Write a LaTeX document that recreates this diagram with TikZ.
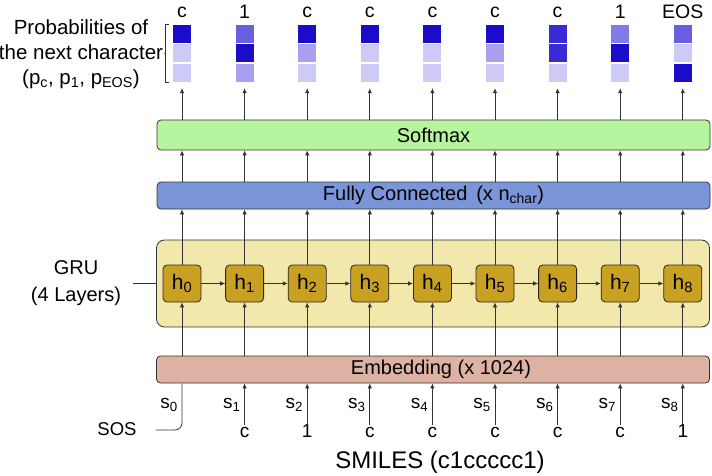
\documentclass[tikz,border=0pt]{standalone}
\usepackage{fontspec}
\setmainfont{Liberation Sans}
\usetikzlibrary{arrows.meta}

\definecolor{pd}{RGB}{26,12,200}
\definecolor{pd2}{RGB}{56,42,214}
\definecolor{pm}{RGB}{106,95,224}
\definecolor{pm2}{RGB}{130,122,232}
\definecolor{pl2}{RGB}{168,160,238}
\definecolor{pl}{RGB}{206,202,248}
\definecolor{smgreen}{RGB}{182,245,160}
\definecolor{fcblue}{RGB}{122,150,216}
\definecolor{grubg}{RGB}{242,232,172}
\definecolor{hgold}{RGB}{200,160,34}
\definecolor{embpink}{RGB}{222,178,162}

\begin{document}
\begin{tikzpicture}[x=1pt, y=-1pt,
            font=\fontsize{20}{22}\selectfont,
            layer/.style = {draw=black!80, thick, rounded corners=4pt, minimum width=553pt, inner sep=0pt},
            cell/.style = {minimum size=18pt, inner sep=0pt},
            hid/.style = {draw=black!85, thick, rounded corners=4pt, fill=hgold, minimum width=38pt, minimum height=37pt, inner sep=0pt, font=\fontsize{21}{22}\selectfont},
            inp/.style = {text height=10pt, text depth=0pt, inner sep=2pt},
            arr/.style = {draw=black!80, thick, -{Latex[length=5pt,width=4.5pt]}},
            lin/.style = {draw=black!80, thick},
        ]
        \useasboundingbox (0,0) rectangle (712,476);

        \node (sm) [layer, fill=smgreen, minimum height=30pt] at (433.5,135) {Softmax};
        \node (fc) [layer, fill=fcblue, minimum height=27pt] at (433.5,195.5) {Fully Connected \,(x n\textsubscript{char})};
        \node (gru) [layer, fill=grubg, minimum height=87pt, rounded corners=8pt] at (433,283.5) {};
        \node (emb) [layer, fill=embpink, minimum height=27pt] at (433,369.5) {\hspace{16pt}Embedding (x 1024)};

        \node (prob) [align=center, inner xsep=1pt, font=\fontsize{20.5}{25}\selectfont] at (81,54)
            {Probabilities of\\the next character\\(p\textsubscript{c}, p\textsubscript{1}, p\textsubscript{EOS})};
        \node (grulab) [align=center, inner xsep=12pt, font=\fontsize{20}{27}\selectfont] at (76,283.5) {GRU\\(4 Layers)};
        \node (sos) [inp, inner xsep=19pt, font=\fontsize{18.5}{20}\selectfont] at (117,430) {SOS};
        \node (smiles) [font=\fontsize{24}{26}\selectfont] at (440,462) {SMILES (c1ccccc1)};

        % output columns
        \foreach \i/\t/\m/\b/\lab in {0/pd/pl/pl/c, 1/pm/pd/pl2/1, 2/pd/pl2/pl/c, 3/pd/pl/pl/c,
                4/pd/pl/pl/c, 5/pd/pl2/pl/c, 6/pd2/pd2/pl/c, 7/pm2/pd/pl/1, 8/pm/pl/pd/EOS} {
            \pgfmathsetmacro\xx{182+62.6*\i}
            \node (h\i) [hid] at (\xx,283.5) {h\textsubscript{\i}};
            \node (ct\i) [cell, fill=\t] at (\xx,34) {};
            \node (cm\i) [cell, fill=\m] at (\xx,53.5) {};
            \node (cb\i) [cell, fill=\b] at (\xx,73) {};
            \node (out\i) [font=\fontsize{19.5}{20}\selectfont] at (\xx,12) {\lab};

            \path[arr] (sm.north -| h\i) -- ([yshift=-6pt]cb\i.south);
            \path[arr] (fc.north -| h\i) -- (sm.south -| h\i);
            \path[arr] (h\i.north) -- (fc.south -| h\i);
            \path[arr] (emb.north -| h\i) -- (h\i.south);
        }

        % recurrence
        \foreach \i [evaluate=\i as \j using int(\i+1)] in {0,...,7}
            \path[arr] (h\i) -- (h\j);

        % inputs
        \foreach \i/\ch in {1/c, 2/1, 3/c, 4/c, 5/c, 6/c, 7/c, 8/1} {
            \pgfmathsetmacro\xx{182+62.6*\i}
            \node (ch\i) [inp, font=\fontsize{19}{20}\selectfont] at (\xx,432) {\ch};
            \node (s\i) [anchor=east, inner sep=1pt, font=\fontsize{19}{20}\selectfont] at (\xx-3,405) {s\textsubscript{\i}};
            \path[arr] (ch\i.north) -- (emb.south -| ch\i);
        }
        \node (s0) [anchor=east, inner sep=1pt, font=\fontsize{19}{20}\selectfont] at (179,405) {s\textsubscript{0}};
        \path[lin, rounded corners=7pt] (sos.east) -| (emb.south -| h0);

        % labels
        \path[lin] (grulab.east) -- (gru.west);
        \path[lin] ([xshift=-4pt]ct0.north west) -- ([xshift=-7pt]ct0.north west)
            -- ([xshift=-7pt]cb0.south west) -- ([xshift=-4pt]cb0.south west);
        \path[lin] (prob.east) -- ([xshift=-7pt]cm0.west);
    \end{tikzpicture}
\end{document}
